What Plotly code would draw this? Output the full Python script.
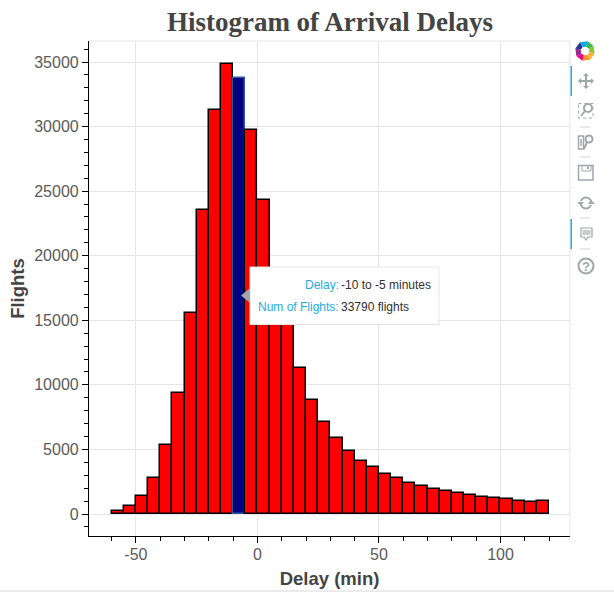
import math
import plotly.graph_objects as go

# Histogram of arrival delays, 5 minute bins
bin_left = [-60, -55, -50, -45, -40, -35, -30, -25, -20, -15, -10, -5,
            0, 5, 10, 15, 20, 25, 30, 35, 40, 45, 50, 55,
            60, 65, 70, 75, 80, 85, 90, 95, 100, 105, 110, 115]
flights = [250, 640, 1385, 2805, 5340, 9390, 15540, 23540, 31290, 34840, 33790, 29740,
           24340, 18800, 15000, 11320, 8790, 7140, 5900, 4890, 4120, 3605, 3115, 2750,
           2440, 2160, 1930, 1770, 1620, 1440, 1310, 1255, 1150, 1000, 920, 1000]
hover_bin = -10

x_ticks = [-50, 0, 50, 100]
y_ticks = [0, 5000, 10000, 15000, 20000, 25000, 30000, 35000]

GREY = "#444444"
TICK_GREY = "#5a5a5a"
GRID = "#e5e5e5"
ICON = "#a1a6a9"
BLUE = "#26aae1"

# plot frame in page pixels
LEFT, RIGHT, TOP, BOTTOM = 89, 570, 41, 536


def px(x):
    return (x - LEFT) / (RIGHT - LEFT)


def py(y):
    return (BOTTOM - y) / (BOTTOM - TOP)


def rect(x0, y0, x1, y1, **kw):
    return dict(type="rect", xref="paper", yref="paper", x0=px(x0), x1=px(x1), y0=py(y0), y1=py(y1), **kw)


def seg(x0, y0, x1, y1, color=ICON, width=1.5, dash="solid"):
    return dict(type="line", xref="paper", yref="paper", x0=px(x0), x1=px(x1), y0=py(y0), y1=py(y1),
                line=dict(color=color, width=width, dash=dash))


def circle(cx, cy, r, color=ICON, width=1.5, fill="rgba(0,0,0,0)"):
    return dict(type="circle", xref="paper", yref="paper", x0=px(cx - r), x1=px(cx + r), y0=py(cy + r), y1=py(cy - r),
                line=dict(color=color, width=width), fillcolor=fill)


def poly(points, fill, line="rgba(0,0,0,0)", width=0):
    d = "M " + " L ".join(f"{px(a):.5f},{py(b):.5f}" for a, b in points) + " Z"
    return dict(type="path", xref="paper", yref="paper", path=d, fillcolor=fill, line=dict(color=line, width=width))


def toolbar_shapes():
    s = []
    # logo ring
    colors = ["#f7941d", "#ec008c", "#92278f", "#2e3192", "#00aeef", "#39b54a", "#8dc63f", "#fbb040"]
    cx, cy = 585, 51
    for i, c in enumerate(colors):
        a0 = math.radians(i * 45 + 60)
        a1 = math.radians(i * 45 + 105)
        s.append(poly([(cx + 10 * math.cos(a0), cy + 10 * math.sin(a0)),
                       (cx + 10 * math.cos(a1), cy + 10 * math.sin(a1)),
                       (cx + 4.5 * math.cos(a1), cy + 4.5 * math.sin(a1)),
                       (cx + 4.5 * math.cos(a0), cy + 4.5 * math.sin(a0))], c))
    # active bars
    s.append(rect(570.5, 66, 572, 96, fillcolor=BLUE, line_width=0))
    s.append(rect(570.5, 219, 572, 249, fillcolor=BLUE, line_width=0))
    # separators
    for y in [127, 157, 218, 249]:
        s.append(seg(580, y, 590, y, color="#d0d3d4", width=1))
    # pan
    s.append(seg(579, 81, 593, 81, width=2))
    s.append(seg(586, 74, 586, 88, width=2))
    s.append(poly([(578, 81), (581, 78), (581, 84)], ICON))
    s.append(poly([(594, 81), (591, 78), (591, 84)], ICON))
    s.append(poly([(586, 73), (583, 76), (589, 76)], ICON))
    s.append(poly([(586, 89), (583, 86), (589, 86)], ICON))
    # box zoom
    s.append(rect(578.5, 103.5, 593, 118, line=dict(color=ICON, width=1, dash="dot")))
    s.append(circle(588, 108, 4, width=2, fill="white"))
    s.append(seg(585, 111, 581, 116, width=2))
    # wheel zoom
    s.append(dict(type="rect", xref="paper", yref="paper", x0=px(578.5), x1=px(583.5), y0=py(149), y1=py(136),
                  line=dict(color=ICON, width=1.5)))
    s.append(seg(581, 139, 581, 146, width=1.5))
    s.append(circle(589, 139, 3.5, width=2))
    s.append(seg(587, 142, 584, 149, width=2))
    # save
    s.append(rect(578.5, 165.5, 593, 180, line=dict(color=ICON, width=1.5)))
    s.append(rect(582, 165.5, 591, 171, line=dict(color=ICON, width=1)))
    s.append(rect(587, 166.5, 589, 169, fillcolor=ICON, line_width=0))
    # reset
    s.append(circle(586, 203, 5.5, width=2))
    s.append(rect(578, 201, 594, 205, fillcolor="white", line_width=0))
    s.append(poly([(591, 200), (595, 204), (588, 204)], ICON))
    s.append(poly([(581, 206), (577, 202), (584, 202)], ICON))
    # hover
    s.append(poly([(581, 228), (592, 228), (592, 237), (588, 237), (586, 240), (584, 237), (581, 237)],
                  "white", ICON, 1.2))
    s.append(rect(582.5, 230, 590.5, 235, fillcolor="#c9cbcd", line_width=0))
    # help
    s.append(circle(586, 266, 7.5, width=2))
    return s


def main():
    mids = [b + 2.5 for b in bin_left]
    fill = ["navy" if b == hover_bin else "red" for b in bin_left]
    edge = ["#2a5b9c" if b == hover_bin else "black" for b in bin_left]

    fig = go.Figure()
    fig.add_trace(go.Bar(x=mids, y=flights, width=5,
                         marker=dict(color=fill, line=dict(color=edge, width=1.5)),
                         hoverinfo="skip"))

    axis_font = dict(family="Liberation Sans, Arial, sans-serif", size=16, color=TICK_GREY)
    title_font = dict(family="Liberation Sans, Arial, sans-serif", size=18.5, color=GREY, weight="bold")

    fig.update_xaxes(range=[-69.3, 128.6], tickvals=x_ticks, ticktext=[str(v) for v in x_ticks],
                     showline=True, linecolor="black", linewidth=1.2, ticks="outside", ticklen=6,
                     tickcolor="black", tickwidth=1, tickfont=axis_font, gridcolor=GRID, gridwidth=1,
                     zeroline=False, mirror=False, ticklabelstandoff=-2,
                     minor=dict(tickvals=[v for v in range(-60, 121, 10)], ticks="outside", ticklen=4,
                                tickcolor="black", tickwidth=1, showgrid=False),
                     title=dict(text="Delay (min)", font=title_font, standoff=9))
    fig.update_yaxes(range=[-1703, 36626], tickvals=y_ticks, ticktext=[str(v) for v in y_ticks],
                     showline=True, linecolor="black", linewidth=1.2, ticks="outside", ticklen=6,
                     tickcolor="black", tickwidth=1, tickfont=axis_font, gridcolor=GRID, gridwidth=1,
                     zeroline=False, mirror=False,
                     minor=dict(tickvals=[v for v in range(-1000, 36001, 1000)], ticks="outside", ticklen=4,
                                tickcolor="black", tickwidth=1, showgrid=False),
                     title=dict(text="Flights", font=title_font, standoff=4))

    shapes = [
        # plot outline
        seg(LEFT, TOP, RIGHT, TOP, color=GRID, width=1),
        seg(RIGHT, TOP, RIGHT, BOTTOM, color=GRID, width=1),
        # bottom edge of the page
        seg(0, 591, 614, 591, color="#d8d8d8", width=1),
        # tooltip
        rect(250, 267, 439, 324.5, fillcolor="white", line=dict(color="#e5e5e5", width=1)),
        poly([(250, 288), (250, 303), (241, 295.5)], "#a1a6a9"),
    ] + toolbar_shapes()

    idx = bin_left.index(hover_bin)
    label_font = dict(family="Liberation Sans, Arial, sans-serif", size=12, color=BLUE)
    value_font = dict(family="Liberation Sans, Arial, sans-serif", size=12, color="#2f2f2f")
    annotations = [
        dict(text="Delay:", x=px(339), y=py(285), xanchor="right", font=label_font),
        dict(text="Num of Flights:", x=px(339), y=py(307), xanchor="right", font=label_font),
        dict(text=f"{hover_bin} to {hover_bin + 5} minutes", x=px(341), y=py(285), xanchor="left", font=value_font),
        dict(text=f"{flights[idx]} flights", x=px(341), y=py(307), xanchor="left", font=value_font),
        dict(text="?", x=px(586), y=py(266), xanchor="center",
             font=dict(family="Liberation Sans, Arial, sans-serif", size=13, color=ICON, weight="bold")),
    ]
    for a in annotations:
        a.update(xref="paper", yref="paper", yanchor="middle", showarrow=False, borderpad=0, borderwidth=0)

    fig.update_layout(
        width=614, height=596,
        margin=dict(l=LEFT, r=614 - RIGHT, t=TOP, b=596 - BOTTOM, autoexpand=False),
        paper_bgcolor="white", plot_bgcolor="white", showlegend=False, bargap=0,
        title=dict(text="<b>Histogram of Arrival Delays</b>", x=330 / 614, xanchor="center",
                   y=1 - 22 / 596, yanchor="middle",
                   font=dict(family="Liberation Serif, Times New Roman, serif", size=27, color=GREY)),
        shapes=shapes, annotations=annotations,
    )

    fig.write_html("out.html", config=dict(displayModeBar=False),
                   post_script="document.body.style.margin='0';document.body.style.overflow='hidden';")


if __name__ == "__main__":
    main()
